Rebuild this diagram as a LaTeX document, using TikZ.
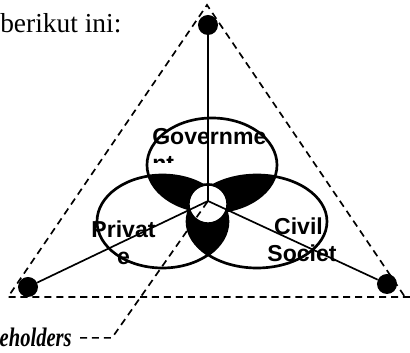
\documentclass[tikz,border=0pt]{standalone}
\usepackage{fontspec}
\setmainfont{Liberation Serif}
\setsansfont{Liberation Sans}
\usetikzlibrary{positioning}
\tikzset{
  hub/.style={circle, fill=black, inner sep=0pt, minimum size=0.5cm},
  core/.style={circle, draw, fill=white, line width=1.8pt, inner sep=0pt, minimum size=0.98cm},
  venn/.style={line width=1.9pt},
  spoke/.style={line width=1.2pt},
  guide/.style={line width=1.2pt, dash pattern=on 5pt off 3.5pt},
  setlabel/.style={font=\sffamily\bfseries\fontsize{16.4}{19.2}\selectfont, inner sep=0pt},
  bodytext/.style={font=\fontsize{19.5}{23}\selectfont, inner sep=0pt},
}
\newcommand{\govset}{(212,165) ellipse [x radius=65, y radius=47]}
\newcommand{\privset}{(162.5,221.5) ellipse [x radius=65.5, y radius=46.5]}
\newcommand{\civset}{(257,221.5) ellipse [x radius=70, y radius=46.5]}
\begin{document}
\begin{tikzpicture}[x=0.025cm, y=-0.025cm]
\useasboundingbox (0,0) rectangle (410,353);

% text around the figure
\node[bodytext, anchor=base west] (intro) at (0,33) {berikut ini:};
\node[anchor=base east, inner sep=0pt, font=\bfseries\itshape\fontsize{19}{22}\selectfont] (stake) at (72,347) {\scalebox{0.77}[1]{eholders}};

% overlaps of the three sets
\begin{scope}
  \clip \govset;
  \fill \privset;
\end{scope}
\begin{scope}
  \clip \govset;
  \fill \civset;
\end{scope}
\begin{scope}
  \clip \privset;
  \fill \civset;
\end{scope}
\draw[venn] \govset;
\draw[venn] \privset;
\draw[venn] \civset;

\node[core] (core) at (208,204) {};
\coordinate (hubc) at (208,201);

% corner points
\node[hub] (govdot) at (208,25) {};
\node[hub] (privdot) at (28,287) {};
\node[hub] (civdot) at (387,284) {};

\draw[spoke] (govdot) -- (hubc);
\draw[spoke] (privdot) -- (hubc);
\draw[spoke] (civdot) -- (hubc);

% dashed triangle
\coordinate (apex) at (207,5);
\coordinate (left) at (8,297);
\coordinate (right) at (405,297);
\draw[guide] (410,297) -- (left) -- (apex) -- (right);

% labels
\node[setlabel, anchor=base west] (govtxt) at (152,145) {Governme};
\begin{scope}
  \clip (140,150) rectangle (200,163);
  \node[setlabel, anchor=base west] (govtxt2) at (152,172) {nt};
\end{scope}
\node[setlabel, anchor=base] (privtxt) at (123.5,238) {Privat};
\node[setlabel, anchor=base] (privtxt2) at (123.5,265) {e};
\node[setlabel, anchor=base] (civtxt) at (298.5,235) {Civil};
\node[setlabel, anchor=base] (civtxt2) at (302,262) {Societ};

% pointer
\coordinate (bend) at (112,342);
\draw[guide] ([xshift=0.2cm]stake.east) -- (stake.east -| bend) -- (hubc);

\end{tikzpicture}
\end{document}
